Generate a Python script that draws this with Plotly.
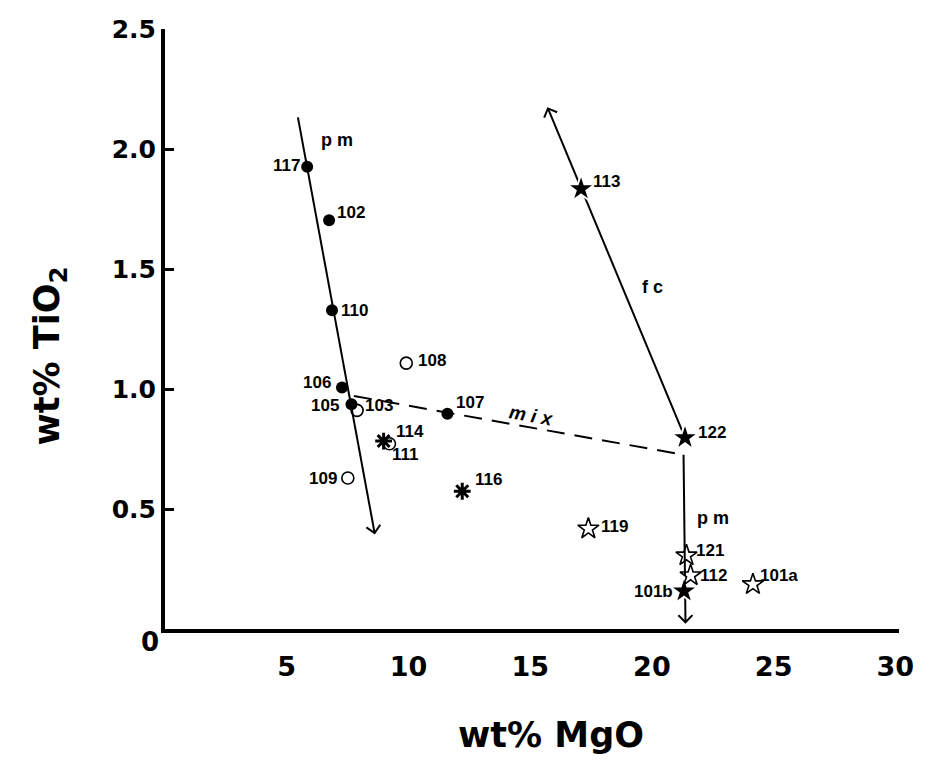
import math
import plotly.graph_objects as go

# ---- sample data: wt% MgO vs wt% TiO2 ----
filled_circle_ids = ["117", "102", "110", "106", "105", "107"]
filled_circle_mgo = [5.84, 6.74, 6.86, 7.27, 7.66, 11.60]
filled_circle_tio2 = [1.926, 1.703, 1.328, 1.006, 0.936, 0.897]

open_circle_ids = ["103", "108", "111", "109"]
open_circle_mgo = [7.89, 9.91, 9.22, 7.51]
open_circle_tio2 = [0.911, 1.108, 0.772, 0.629]

asterisk_ids = ["114", "116"]
asterisk_mgo = [8.98, 12.21]
asterisk_tio2 = [0.783, 0.574]

filled_star_ids = ["113", "122", "101b"]
filled_star_mgo = [17.09, 21.36, 21.32]
filled_star_tio2 = [1.834, 0.797, 0.158]

open_star_ids = ["119", "121", "112", "101a"]
open_star_mgo = [17.39, 21.42, 21.59, 24.15]
open_star_tio2 = [0.418, 0.306, 0.223, 0.186]

# ---- trend lines (start, end); arrows point at the end ----
pm_left_mgo = [5.46, 8.61]
pm_left_tio2 = [2.132, 0.400]
fc_mgo = [21.36, 15.73]
fc_tio2 = [0.797, 2.169]
mix_mgo = [7.76, 21.30]
mix_tio2 = [0.971, 0.726]
pm_right_mgo = [21.30, 21.38]
pm_right_tio2 = [0.726, 0.028]

x_ticks = [5, 10, 15, 20, 25, 30]
y_ticks = [0.5, 1.0, 1.5, 2.0, 2.5]
y_tick_text = ["0.5", "1.0", "1.5", "2.0", "2.5"]

# label placement around each sample (pixels: right, down)
label_offsets = {
    "117": (-21, -1), "102": (22, -8), "110": (22, 0), "106": (-25, -5),
    "105": (-26, 1), "107": (23, -11), "103": (22, -5), "108": (26, -3),
    "111": (16, 11), "109": (-25, 0), "114": (26, -10), "116": (26, -12),
    "113": (25, -7), "122": (27, -5), "101b": (-31, 0), "119": (26, -2),
    "121": (24, -5), "112": (23, 0), "101a": (26, -9),
}

INK = "black"
LABEL_FONT = dict(family="Liberation Sans", size=17, color=INK, weight="bold")
TICK_FONT = "DejaVu Sans"

# figure geometry
W, H = 926, 766
M = dict(l=165, r=24, t=29, b=137)
X_RANGE = [0, 30.15]
Y_RANGE = [0, 2.5]
PX_X = (W - M["l"] - M["r"]) / (X_RANGE[1] - X_RANGE[0])
PX_Y = (H - M["t"] - M["b"]) / (Y_RANGE[1] - Y_RANGE[0])

fig = go.Figure()

# trend lines, drawn beneath the samples
line_style = dict(color=INK, width=2)
fig.add_trace(go.Scatter(x=pm_left_mgo, y=pm_left_tio2, mode="lines", line=line_style))
fig.add_trace(go.Scatter(x=fc_mgo, y=fc_tio2, mode="lines", line=line_style))
fig.add_trace(go.Scatter(x=mix_mgo, y=mix_tio2, mode="lines",
                         line=dict(color=INK, width=2, dash="18px,10px")))
fig.add_trace(go.Scatter(x=pm_right_mgo, y=pm_right_tio2, mode="lines", line=line_style))


def chevron(xs, ys, arm_px=10.0):
    """Open V arrowhead at the end point of a two-point line."""
    tx, ty = xs[1], ys[1]
    # direction of travel in screen pixels
    dx = (xs[1] - xs[0]) * PX_X
    dy = (ys[1] - ys[0]) * PX_Y
    ang = math.atan2(dy, dx)
    px, py = [], []
    for side in (-1, 1):
        a = ang + math.pi + side * math.radians(45)
        px.append(tx + arm_px * math.cos(a) / PX_X)
        py.append(ty + arm_px * math.sin(a) / PX_Y)
    return go.Scatter(x=[px[0], tx, px[1]], y=[py[0], ty, py[1]], mode="lines",
                      line=dict(color=INK, width=2))


fig.add_trace(chevron(pm_left_mgo, pm_left_tio2))
fig.add_trace(chevron(fc_mgo, fc_tio2))
fig.add_trace(chevron(pm_right_mgo, pm_right_tio2))

# sample groups
groups = [
    (filled_circle_ids, filled_circle_mgo, filled_circle_tio2,
     dict(symbol="circle", size=12, color=INK)),
    (open_circle_ids, open_circle_mgo, open_circle_tio2,
     dict(symbol="circle-open", size=12, color=INK, line=dict(width=1.6, color=INK))),
    (asterisk_ids, asterisk_mgo, asterisk_tio2,
     dict(symbol="asterisk-open", size=14, color=INK, line=dict(width=3, color=INK))),
    (filled_star_ids, filled_star_mgo, filled_star_tio2,
     dict(symbol="star", size=21, color=INK, line=dict(width=2, color="white"))),
    (open_star_ids, open_star_mgo, open_star_tio2,
     dict(symbol="star-open", size=16, color=INK, line=dict(width=1.6, color=INK))),
]

annotations = []
for ids, xs, ys, marker in groups:
    fig.add_trace(go.Scatter(x=xs, y=ys, mode="markers", marker=marker, text=ids))
    for sid, xv, yv in zip(ids, xs, ys):
        dx, dy = label_offsets[sid]
        annotations.append(dict(x=xv, y=yv, xref="x", yref="y", text=sid,
                                showarrow=False, xshift=dx, yshift=-dy,
                                xanchor="center", yanchor="middle", font=LABEL_FONT))

# process labels
proc_font = dict(family="Liberation Sans", size=18, color=INK, weight="bold")
annotations += [
    dict(x=7.06, y=2.037, text="p m", font=proc_font),
    dict(x=20.02, y=1.425, text="f c", font=proc_font),
    dict(x=22.50, y=0.462, text="p m", font=proc_font),
    dict(x=15.04, y=0.890, text="<i>m i x</i>", textangle=10,
         font=dict(family="Liberation Sans", size=19, color=INK, weight="bold")),
]
for a in annotations[-4:]:
    a.update(xref="x", yref="y", showarrow=False, xanchor="center", yanchor="middle")

# shared origin label and axis titles
title_font = dict(family=TICK_FONT, size=35, color=INK, weight="bold")
annotations += [
    dict(x=-0.020, y=-0.022, xref="paper", yref="paper", text="0", showarrow=False,
         xanchor="center", yanchor="middle",
         font=dict(family=TICK_FONT, size=26, color=INK, weight="bold")),
    dict(x=0.526, y=-0.177, xref="paper", yref="paper", text="wt% MgO", showarrow=False,
         xanchor="center", yanchor="middle", font=title_font),
    dict(x=-0.156, y=0.455, xref="paper", yref="paper", text="wt% TiO<sub>2</sub>",
         showarrow=False, textangle=-90, xanchor="center", yanchor="middle",
         font=title_font),
]

fig.update_layout(
    width=W, height=H,
    margin=M,
    paper_bgcolor="white", plot_bgcolor="white",
    showlegend=False,
    annotations=annotations,
    xaxis=dict(range=X_RANGE, tickvals=x_ticks, ticks="", showgrid=False,
               zeroline=False, showline=True, linewidth=4, linecolor=INK,
               ticklabelstandoff=11,
               tickfont=dict(family=TICK_FONT, size=27, color=INK, weight="bold")),
    yaxis=dict(range=Y_RANGE, tickvals=y_ticks, ticktext=y_tick_text,
               ticks="inside", ticklen=9, tickwidth=3, tickcolor=INK,
               showgrid=False, zeroline=False, showline=True, linewidth=4,
               linecolor=INK,
               tickfont=dict(family=TICK_FONT, size=25, color=INK, weight="bold")),
)

fig.write_html("out.html")
